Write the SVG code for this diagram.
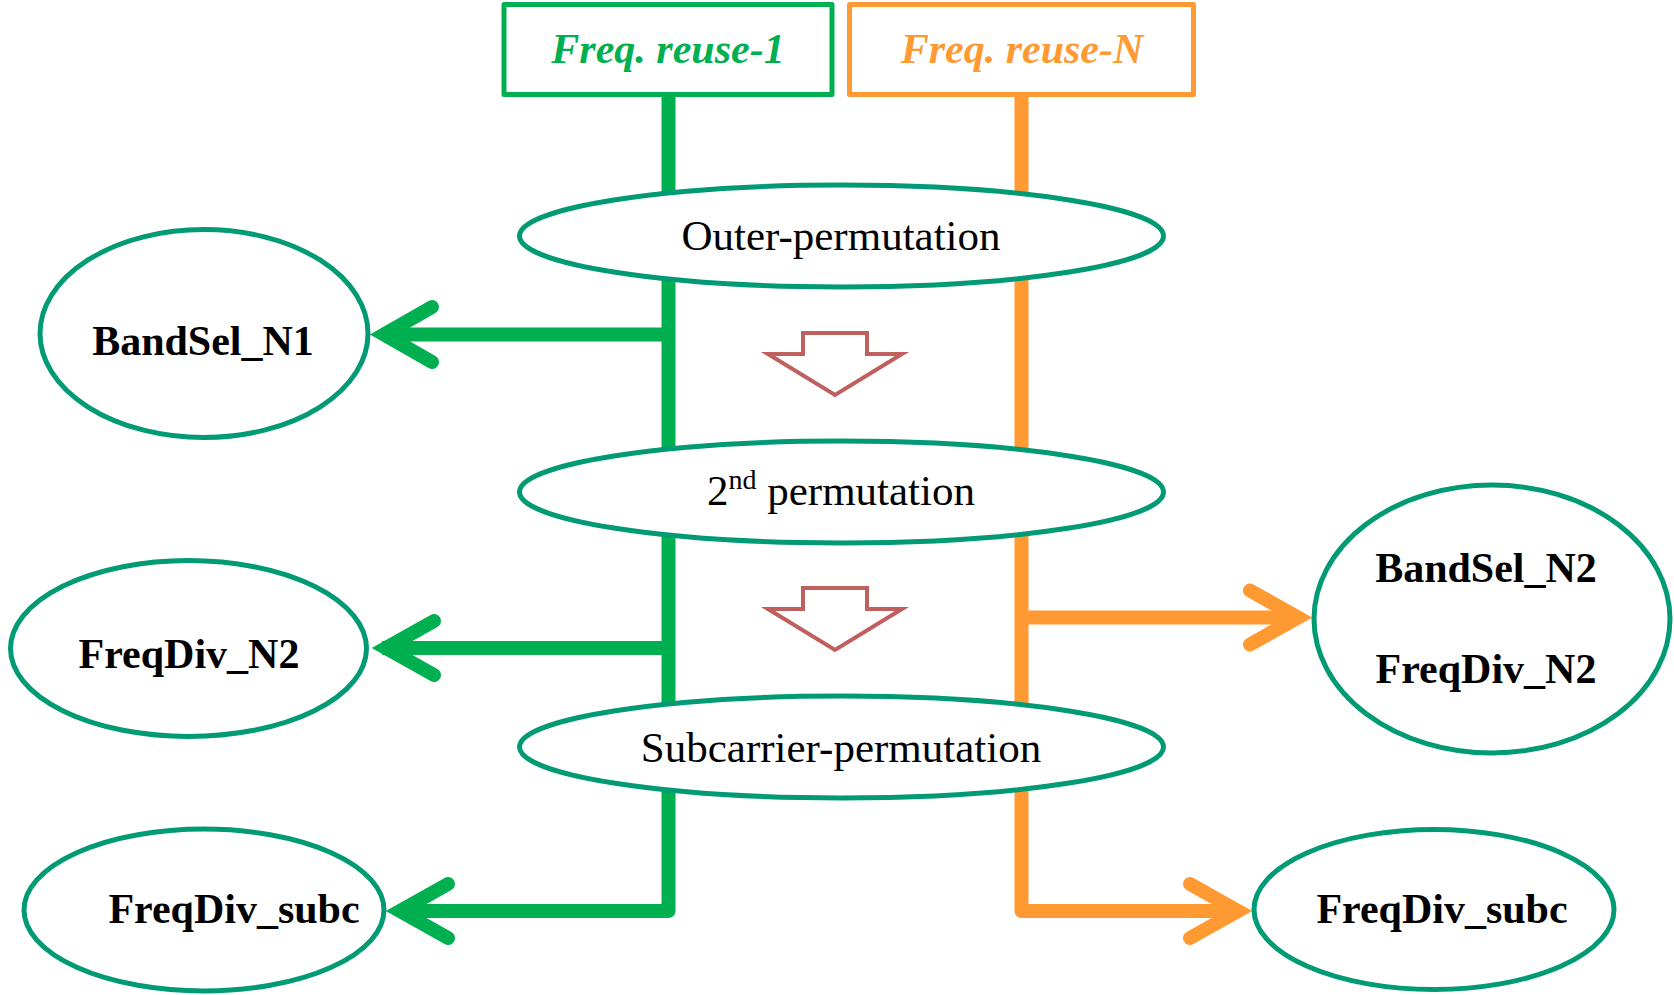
<svg xmlns="http://www.w3.org/2000/svg" width="1674" height="995" viewBox="0 0 1674 995">
<style>
.bg{fill:#ffffff}
.g{fill:none;stroke:#00B050;stroke-width:14;stroke-linejoin:round;stroke-linecap:butt}
.o{fill:none;stroke:#FF9A33;stroke-width:14;stroke-linejoin:round;stroke-linecap:butt}
.gh{fill:none;stroke:#00B050;stroke-width:14;stroke-linejoin:miter;stroke-miterlimit:10;stroke-linecap:round}
.oh{fill:none;stroke:#FF9A33;stroke-width:14;stroke-linejoin:miter;stroke-miterlimit:10;stroke-linecap:round}
.el{fill:#ffffff;stroke:#009A74;stroke-width:5}
.blk{fill:#ffffff;stroke:#C0605E;stroke-width:4;stroke-linejoin:miter}
.t{font-family:"Liberation Serif","Times New Roman",serif;fill:#000000}
.b{font-weight:bold;font-size:42px}
.p{font-size:43px}
.hd{font-family:"Liberation Serif","Times New Roman",serif;font-weight:bold;font-style:italic;font-size:42px}
</style>
<rect class="bg" x="0" y="0" width="1674" height="995"/>
<g id="connectors">
  <path class="g" d="M668.5,95 V911 H398"/>
  <path class="g" d="M668.5,334.5 H382"/>
  <path class="g" d="M668.5,648 H382"/>
  <polyline class="gh" points="432,307 384,334.5 432,362"/>
  <polyline class="gh" points="434,621 386,648 434,675"/>
  <polyline class="gh" points="448,884 400,911 448,938"/>
  <path class="o" d="M1021.5,95 V911 H1238"/>
  <path class="o" d="M1021.5,617.5 H1298"/>
  <polyline class="oh" points="1250,590.5 1298,617.5 1250,644.5"/>
  <polyline class="oh" points="1190,884 1238,911 1190,938"/>
</g>
<g id="box-reuse1">
  <rect x="504" y="4.5" width="328" height="90" fill="#ffffff" stroke="#00B050" stroke-width="5" stroke-linejoin="round"/>
  <text class="hd" x="668" y="63" text-anchor="middle" fill="#00B050">Freq. reuse-1</text>
</g>
<g id="box-reuseN">
  <rect x="849.5" y="4.5" width="344" height="90" fill="#ffffff" stroke="#FF9A33" stroke-width="5" stroke-linejoin="round"/>
  <text class="hd" x="1022" y="63" text-anchor="middle" fill="#FF9A33">Freq. reuse-N</text>
</g>
<g id="outer-permutation">
  <ellipse class="el" cx="841.5" cy="236" rx="322" ry="51"/>
  <text class="t p" x="841" y="250" text-anchor="middle">Outer-permutation</text>
</g>
<g id="arrow-1">
  <polygon class="blk" points="803,333 867,333 867,354 902,354 835,395 768,354 803,354"/>
</g>
<g id="second-permutation">
  <ellipse class="el" cx="841.5" cy="492" rx="322" ry="51"/>
  <text class="t p" x="841" y="505" text-anchor="middle">2<tspan font-size="28" dy="-16">nd</tspan><tspan dy="16"> permutation</tspan></text>
</g>
<g id="arrow-2">
  <polygon class="blk" points="803,588 867,588 867,609 902,609 835,650 768,609 803,609"/>
</g>
<g id="subcarrier-permutation">
  <ellipse class="el" cx="841.5" cy="747" rx="322" ry="51"/>
  <text class="t p" x="841" y="762" text-anchor="middle">Subcarrier-permutation</text>
</g>
<g id="bandsel-n1">
  <ellipse class="el" cx="204" cy="333.5" rx="164" ry="104"/>
  <text class="t b" x="203" y="355" text-anchor="middle">BandSel_N1</text>
</g>
<g id="freqdiv-n2-left">
  <ellipse class="el" cx="188.5" cy="648.5" rx="178" ry="88"/>
  <text class="t b" x="189" y="668" text-anchor="middle">FreqDiv_N2</text>
</g>
<g id="freqdiv-subc-left">
  <ellipse class="el" cx="204" cy="910" rx="180" ry="81"/>
  <text class="t b" x="234" y="923" text-anchor="middle">FreqDiv_subc</text>
</g>
<g id="bandsel-freqdiv-n2-right">
  <ellipse class="el" cx="1492" cy="619" rx="178" ry="134"/>
  <text class="t b" x="1486" y="582" text-anchor="middle">BandSel_N2</text>
  <text class="t b" x="1486" y="683" text-anchor="middle">FreqDiv_N2</text>
</g>
<g id="freqdiv-subc-right">
  <ellipse class="el" cx="1434" cy="909.5" rx="180" ry="80"/>
  <text class="t b" x="1442" y="923" text-anchor="middle">FreqDiv_subc</text>
</g>
</svg>
